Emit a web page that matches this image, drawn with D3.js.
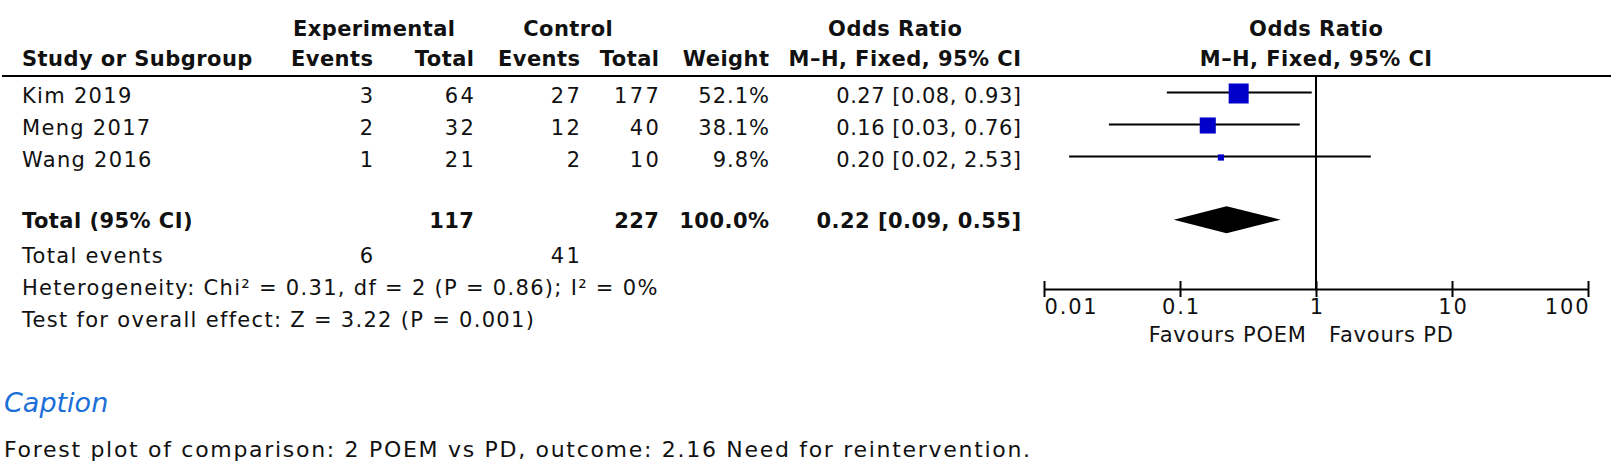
<!DOCTYPE html>
<html>
<head>
<meta charset="utf-8">
<script src="https://cdn.jsdelivr.net/npm/d3@7"></script>
<style>
  html, body { margin: 0; padding: 0; background: #fff; }
  svg { display: block; }
  text { font-family: "DejaVu Sans", sans-serif; fill: #111; }
</style>
</head>
<body>
<svg id="chart" width="1621" height="472"></svg>
<script>
// ---- data ----
const studies      = ["Kim 2019", "Meng 2017", "Wang 2016"];
const expEvents    = [3, 2, 1];
const expTotal     = [64, 32, 21];
const ctrlEvents   = [27, 12, 2];
const ctrlTotal    = [177, 40, 10];
const weights      = [52.1, 38.1, 9.8];
const oddsRatio    = [0.27, 0.16, 0.20];
const ciLow        = [0.08, 0.03, 0.0153];
const ciHigh       = [0.93, 0.76, 2.53];

const totalLabel       = "Total (95% CI)";
const totalExpN        = 117;
const totalCtrlN       = 227;
const totalWeight      = 100.0;
const totalOR          = 0.22;
const totalLow         = 0.09;
const totalHigh        = 0.55;
const totalExpEvents   = 6;
const totalCtrlEvents  = 41;
const heterogeneity    = "Heterogeneity: Chi² = 0.31, df = 2 (P = 0.86); I² = 0%";
const overallEffect    = "Test for overall effect: Z = 3.22 (P = 0.001)";

const tickValues = [0.01, 0.1, 1, 10, 100];
const tickLabels = ["0.01", "0.1", "1", "10", "100"];
const favoursLeft  = "Favours POEM";
const favoursRight = "Favours PD";
const captionTitle = "Caption";
const captionText  = "Forest plot of comparison: 2 POEM vs PD, outcome: 2.16 Need for reintervention.";

// ---- layout ----
const svg = d3.select("#chart");
svg.append("rect").attr("width", 1621).attr("height", 472).attr("fill", "#fff");

const FS = 21;
const col = { study: 22, expEv: 373, expTot: 474, ctrlEv: 580, ctrlTot: 659, weight: 769, orText: 1021 };
const x = d3.scaleLog().domain([0.01, 100]).range([1044, 1588]);
const rowY = d3.scaleLinear().domain([0, 1]).range([93.5, 125.5]); // row centre per index
const baseOff = 9.5;
const sq = d3.scalePow().exponent(0.7).domain([0, 52.1]).range([0, 20]);
const fmt2 = d3.format(".2f");
const LS = { label: 1.3, int: 2.4, pct: 1, or: 0.5, bold: 0.45, tick: 1.8, fav: 0.8, cap: 1.7 };

function txt(xp, yp, s, anchor, bold, ls) {
  ls = ls || 0;
  const a = anchor || "start";
  return svg.append("text")
    .attr("x", a === "end" ? xp + ls : (a === "middle" ? xp + ls / 2 : xp))
    .attr("y", yp)
    .attr("text-anchor", a)
    .attr("font-size", FS)
    .attr("font-weight", bold ? "bold" : "normal")
    .attr("letter-spacing", ls)
    .text(s);
}

// headers
txt(374, 36, "Experimental", "middle", true, LS.bold);
txt(568, 36, "Control", "middle", true, LS.bold);
txt(895, 36, "Odds Ratio", "middle", true, LS.bold);
txt(x(1), 36, "Odds Ratio", "middle", true, LS.bold);
txt(col.study, 66, "Study or Subgroup", "start", true, LS.bold);
txt(col.expEv, 66, "Events", "end", true, LS.bold);
txt(col.expTot, 66, "Total", "end", true, LS.bold);
txt(col.ctrlEv, 66, "Events", "end", true, LS.bold);
txt(col.ctrlTot, 66, "Total", "end", true, LS.bold);
txt(col.weight, 66, "Weight", "end", true, LS.bold);
txt(col.orText, 66, "M–H, Fixed, 95% CI", "end", true, LS.bold);
txt(x(1), 66, "M–H, Fixed, 95% CI", "middle", true, LS.bold);

svg.append("line").attr("x1", 2).attr("x2", 1611).attr("y1", 76).attr("y2", 76)
  .attr("stroke", "#000").attr("stroke-width", 2);

// study rows
studies.forEach((s, i) => {
  const yc = rowY(i), yb = yc + baseOff;
  txt(col.study, yb, s, "start", false, LS.label);
  txt(col.expEv, yb, expEvents[i], "end", false, LS.int);
  txt(col.expTot, yb, expTotal[i], "end", false, LS.int);
  txt(col.ctrlEv, yb, ctrlEvents[i], "end", false, LS.int);
  txt(col.ctrlTot, yb, ctrlTotal[i], "end", false, LS.int);
  txt(col.weight, yb, weights[i].toFixed(1) + "%", "end", false, LS.pct);
  txt(col.orText, yb, `${fmt2(oddsRatio[i])} [${fmt2(ciLow[i])}, ${fmt2(ciHigh[i])}]`, "end", false, LS.or);
  svg.append("line").attr("x1", x(ciLow[i])).attr("x2", x(ciHigh[i]))
    .attr("y1", yc - 1).attr("y2", yc - 1).attr("stroke", "#000").attr("stroke-width", 2);
  const w = sq(weights[i]);
  svg.append("rect").attr("x", x(oddsRatio[i]) - w / 2).attr("y", yc - w / 2)
    .attr("width", w).attr("height", w).attr("fill", "#0000c8");
});

// total row
const yT = 219.7, yTb = 227.7;
txt(col.study, yTb, totalLabel, "start", true, LS.bold);
txt(col.expTot, yTb, totalExpN, "end", true, LS.bold);
txt(col.ctrlTot, yTb, totalCtrlN, "end", true, LS.bold);
txt(col.weight, yTb, totalWeight.toFixed(1) + "%", "end", true, LS.bold);
txt(col.orText, yTb, `${fmt2(totalOR)} [${fmt2(totalLow)}, ${fmt2(totalHigh)}]`, "end", true, LS.bold);
svg.append("path")
  .attr("d", `M${x(totalLow)},${yT} L${x(totalOR)},${yT - 13.5} L${x(totalHigh)},${yT} L${x(totalOR)},${yT + 13.5} Z`)
  .attr("fill", "#000");

txt(col.study, 263, "Total events", "start", false, LS.label);
txt(col.expEv, 263, totalExpEvents, "end", false, LS.int);
txt(col.ctrlEv, 263, totalCtrlEvents, "end", false, LS.int);
txt(col.study, 295, heterogeneity, "start", false, LS.label);
txt(col.study, 327, overallEffect, "start", false, LS.label);

// line of no effect
const axisY = 289;
svg.append("line").attr("x1", x(1)).attr("x2", x(1)).attr("y1", 76).attr("y2", axisY)
  .attr("stroke", "#000").attr("stroke-width", 2);

// axis
const axis = d3.axisBottom(x).tickValues(tickValues)
  .tickFormat((d, i) => tickLabels[i]).tickSizeInner(8).tickSizeOuter(0).tickPadding(10);
const g = svg.append("g").attr("transform", `translate(0,${axisY})`).call(axis);
g.select(".domain").attr("stroke", "#000").attr("stroke-width", 2);
g.selectAll(".tick line").attr("y1", -8).attr("y2", 8).attr("stroke", "#000").attr("stroke-width", 2);
const last = tickValues.length - 1;
g.selectAll(".tick text")
  .attr("font-family", "DejaVu Sans, sans-serif").attr("font-size", FS).attr("fill", "#111")
  .attr("letter-spacing", LS.tick)
  .attr("dy", null).attr("y", 25)
  .attr("x", (d, i) => i === 0 ? 0 : (i === last ? LS.tick : LS.tick / 2))
  .attr("text-anchor", (d, i) => i === 0 ? "start" : (i === last ? "end" : "middle"));

txt(x(1) - 10, axisY + 53, favoursLeft, "end", false, LS.fav);
txt(x(1) + 13, axisY + 53, favoursRight, "start", false, LS.fav);

// caption
svg.append("text").attr("x", 4).attr("y", 412).attr("font-size", 27)
  .attr("font-style", "italic").style("fill", "#1a6fd8").text(captionTitle);
svg.append("text").attr("x", 4).attr("y", 457).attr("font-size", 22)
  .attr("letter-spacing", LS.cap).text(captionText);
</script>
</body>
</html>
